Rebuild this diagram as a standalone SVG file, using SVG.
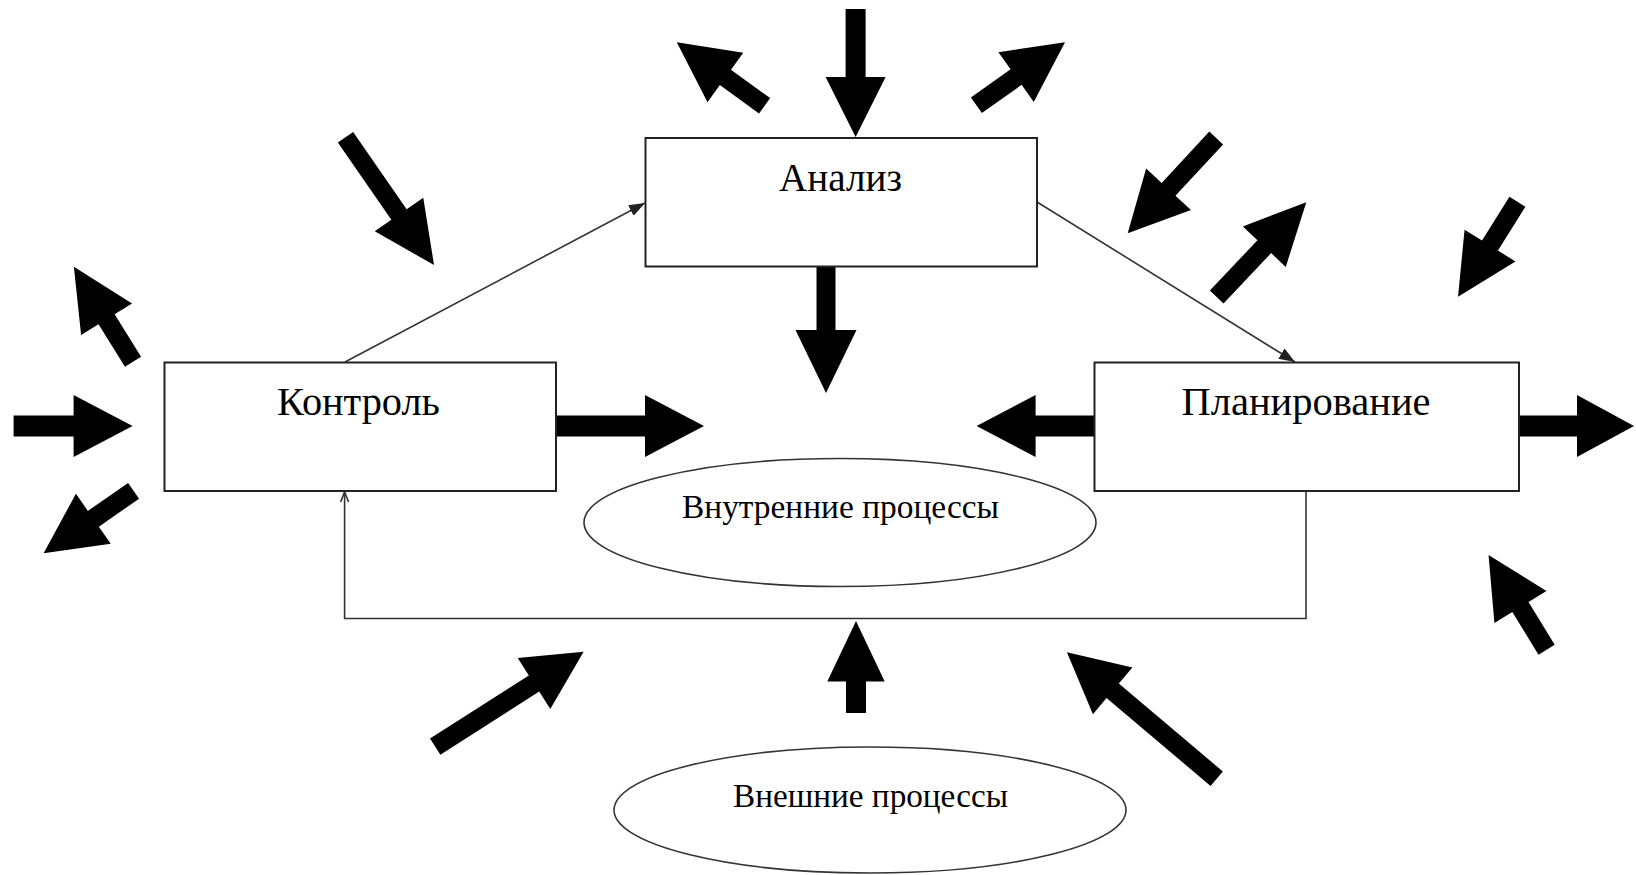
<svg xmlns="http://www.w3.org/2000/svg" width="1636" height="875" viewBox="0 0 1636 875">
<style>
.box{fill:#fff;stroke:#222;stroke-width:2}
.ell{fill:#fff;stroke:#333;stroke-width:1.6}
.lbl{font-family:"Liberation Serif","Times New Roman",serif;font-size:40px;fill:#000;text-anchor:middle}
.sm{font-size:33px}
.con{fill:none;stroke:#333;stroke-width:1.6}
.blk{fill:#000}
</style>
<defs>
<marker id="tri" viewBox="0 0 10 10" refX="10" refY="5" markerWidth="10" markerHeight="10" markerUnits="userSpaceOnUse" orient="auto">
<path d="M0,1 L10,5 L0,9 Z" fill="#222"/>
</marker>
<marker id="tri2" viewBox="0 0 16 12" refX="16" refY="6" markerWidth="16" markerHeight="12" markerUnits="userSpaceOnUse" orient="auto">
<path d="M0,0 L16,6 L0,12 Z" fill="#222"/>
</marker>
<marker id="open" viewBox="0 0 12 10" refX="11" refY="5" markerWidth="12" markerHeight="10" markerUnits="userSpaceOnUse" orient="auto">
<path d="M1,1 L11,5 L1,9" fill="none" stroke="#333" stroke-width="1.6"/>
</marker>
</defs>
<rect width="1636" height="875" fill="#fff"/>

<g id="connectors">
<line class="con" x1="345" y1="362" x2="645" y2="203" marker-end="url(#tri2)"/>
<line class="con" x1="1037" y1="202" x2="1295" y2="362" marker-end="url(#tri2)"/>
<polyline class="con" points="1306,491 1306,618.5 344.6,618.5 344.6,492" marker-end="url(#open)"/>
</g>

<g id="block-arrows" class="blk">
<polygon id="arrA" transform="translate(855.6,9) rotate(90)" points="0,-10 68,-10 68,-30 128,0 68,30 68,10 0,10"/>
<polygon id="arrB" transform="translate(764.6,105.8) rotate(215.9)" points="0,-9.5 48.4,-9.5 48.4,-30.5 108.4,0 48.4,30.5 48.4,9.5 0,9.5"/>
<polygon id="arrC" transform="translate(976.4,105.3) rotate(-35.4)" points="0,-9.5 48.7,-9.5 48.7,-30.5 108.7,0 48.7,30.5 48.7,9.5 0,9.5"/>
<polygon id="arrD" transform="translate(826,267) rotate(90)" points="0,-9.5 63,-9.5 63,-30.5 126,0 63,30.5 63,9.5 0,9.5"/>
<polygon id="arrE" transform="translate(556,426) rotate(0)" points="0,-10.5 89,-10.5 89,-31 148,0 89,31 89,10.5 0,10.5"/>
<polygon id="arrF" transform="translate(1094.6,426) rotate(180)" points="0,-10.5 59,-10.5 59,-31 118,0 59,31 59,10.5 0,10.5"/>
<polygon id="arrG" transform="translate(1519,426) rotate(0)" points="0,-10.5 58,-10.5 58,-31 115,0 58,31 58,10.5 0,10.5"/>
<polygon id="arrH" transform="translate(13.6,426) rotate(0)" points="0,-10.5 60,-10.5 60,-31 119,0 60,31 60,10.5 0,10.5"/>
<polygon id="arrI" transform="translate(133,361.7) rotate(238.1)" points="0,-9.5 50,-9.5 50,-30 111.9,0 50,30 50,9.5 0,9.5"/>
<polygon id="arrJ" transform="translate(133.6,490.8) rotate(145.2)" points="0,-9.6 49,-9.6 49,-30.5 109.6,0 49,30.5 49,9.6 0,9.6"/>
<polygon id="arrK" transform="translate(345.5,137.2) rotate(55.3)" points="0,-9.3 94,-9.3 94,-29.5 155.5,0 94,29.5 94,9.3 0,9.3"/>
<polygon id="arrL" transform="translate(1216.2,138) rotate(132.9)" points="0,-9.4 70,-9.4 70,-30.6 130,0 70,30.6 70,9.4 0,9.4"/>
<polygon id="arrM" transform="translate(1216.7,297) rotate(-46.6)" points="0,-9.4 69.3,-9.4 69.3,-29.5 130.4,0 69.3,29.5 69.3,9.4 0,9.4"/>
<polygon id="arrN" transform="translate(1517.4,201.7) rotate(122)" points="0,-9.4 51.7,-9.4 51.7,-30 112,0 51.7,30 51.7,9.4 0,9.4"/>
<polygon id="arrO" transform="translate(1546.6,649.7) rotate(-121.5)" points="0,-9.5 50.1,-9.5 50.1,-30.5 111.1,0 50.1,30.5 50.1,9.5 0,9.5"/>
<polygon id="arrP" transform="translate(856,713) rotate(-90)" points="0,-10 31.5,-10 31.5,-28.7 92,0 31.5,28.7 31.5,10 0,10"/>
<polygon id="arrQ" transform="translate(435.2,746.7) rotate(-32.6)" points="0,-9.6 117.3,-9.6 117.3,-30.2 176.2,0 117.3,30.2 117.3,9.6 0,9.6"/>
<polygon id="arrR" transform="translate(1216.7,778.7) rotate(-139.8)" points="0,-9.5 136.2,-9.5 136.2,-30.6 196.1,0 136.2,30.6 136.2,9.5 0,9.5"/>
</g>

<g id="analiz">
<rect class="box" x="645.5" y="138" width="391.5" height="128.5"/>
<text class="lbl" x="840.5" y="191" textLength="123" lengthAdjust="spacingAndGlyphs">Анализ</text>
</g>
<g id="kontrol">
<rect class="box" x="164.5" y="362.5" width="391.5" height="128.5"/>
<text class="lbl" x="358.5" y="415" textLength="163" lengthAdjust="spacingAndGlyphs">Контроль</text>
</g>
<g id="planirovanie">
<rect class="box" x="1094.5" y="362.5" width="424.5" height="128.5"/>
<text class="lbl" x="1306" y="415" textLength="249" lengthAdjust="spacingAndGlyphs">Планирование</text>
</g>
<g id="vnutrennie">
<ellipse class="ell" cx="840" cy="522.5" rx="256" ry="64"/>
<text class="lbl sm" x="840.5" y="518" textLength="317" lengthAdjust="spacingAndGlyphs">Внутренние процессы</text>
</g>
<g id="vneshnie">
<ellipse class="ell" cx="870" cy="810" rx="256" ry="63"/>
<text class="lbl sm" x="870.5" y="807" textLength="275" lengthAdjust="spacingAndGlyphs">Внешние процессы</text>
</g>
</svg>
